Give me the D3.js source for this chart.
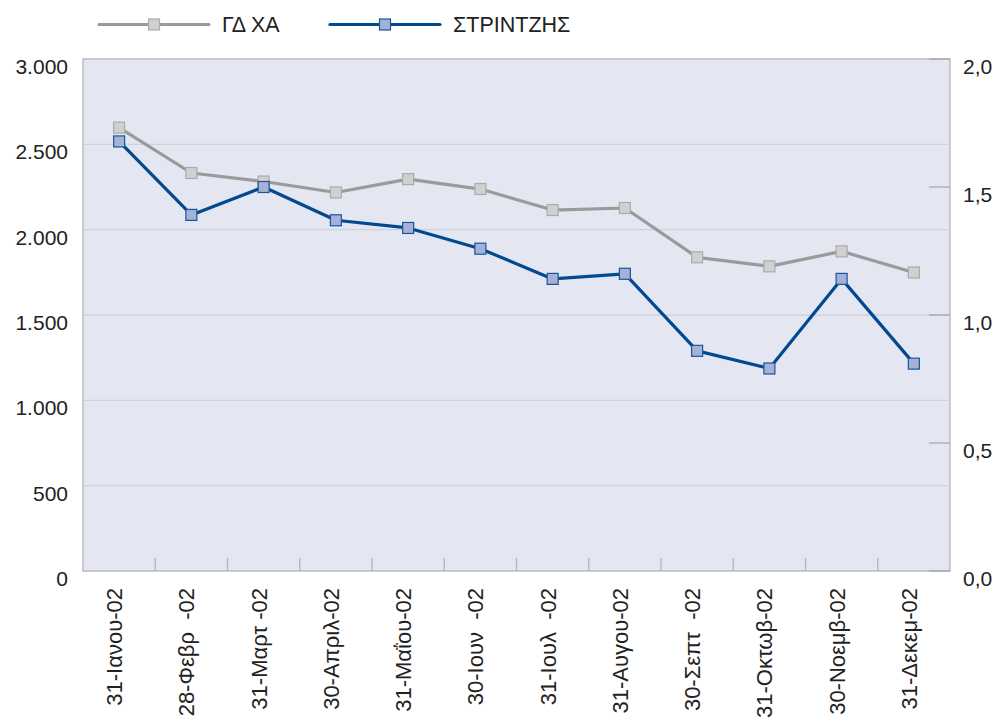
<!DOCTYPE html>
<html><head><meta charset="utf-8">
<script src="https://cdn.jsdelivr.net/npm/d3@7"></script>
<style>body{margin:0;background:#fff}svg{display:block}text{white-space:pre}</style>
</head><body>
<svg id="c" width="1000" height="723"></svg>
<script>
const categories = ["31-Ιανου-02","28-Φεβρ  -02","31-Μαρτ -02","30-Απριλ-02","31-Μαΐου-02","30-Ιουν  -02","31-Ιουλ  -02","31-Αυγου-02","30-Σεπτ  -02","31-Οκτωβ-02","30-Νοεμβ-02","31-Δεκεμ-02"];
const gdxa = [2598,2332,2282,2218,2296,2238,2115,2127,1838,1785,1873,1749];
const strintzis = [1.678,1.391,1.500,1.370,1.340,1.259,1.141,1.161,0.860,0.791,1.141,0.810];
const leftTicks = [0,500,1000,1500,2000,2500,3000];
const rightTicks = [0,0.5,1.0,1.5,2.0];
const seriesNames = ["ΓΔ ΧΑ","ΣΤΡΙΝΤΖΗΣ"];

const svg = d3.select("#c");
const L=83, R=950, T=59, B=571;
const x = d3.scaleBand().domain(categories).range([L,R]);
const yL = d3.scaleLinear().domain([0,3000]).range([B,T]);
const yR = d3.scaleLinear().domain([0,2]).range([B,T]);
const fmtL = v => v===0 ? "0" : d3.format(",")(v).replace(/,/g,".");
const fmtR = v => d3.format(".1f")(v).replace(".",",");
const font = "'Liberation Sans', Arial, sans-serif";

svg.append("rect").attr("x",L).attr("y",T).attr("width",R-L).attr("height",B-T).attr("fill","#e4e7f2");
svg.append("g").selectAll("line").data(leftTicks.filter(d=>d>0&&d<3000)).join("line")
  .attr("x1",L).attr("x2",R-2).attr("y1",d=>yL(d)).attr("y2",d=>yL(d))
  .attr("stroke","#d0d1d9").attr("stroke-width",1.3);
svg.append("rect").attr("x",L).attr("y",T).attr("width",R-L).attr("height",B-T).attr("fill","none").attr("stroke","#b3b3b8").attr("stroke-width",1.3);
svg.append("g").selectAll("line").data(categories.slice(1)).join("line")
  .attr("x1",d=>x(d)).attr("x2",d=>x(d)).attr("y1",B).attr("y2",B-13)
  .attr("stroke","#b3b3b8").attr("stroke-width",1.3);
svg.append("g").selectAll("line").data(rightTicks).join("line")
  .attr("x1",R-21).attr("x2",R).attr("y1",d=>yR(d)).attr("y2",d=>yR(d))
  .attr("stroke","#a8a8ad").attr("stroke-width",1.3);
svg.append("g").selectAll("text").data(leftTicks).join("text")
  .attr("x",68).attr("y",d=>yL(d)+15).attr("text-anchor","end")
  .attr("font-family",font).attr("font-size",21).attr("fill","#222").text(fmtL);
svg.append("g").selectAll("text").data(rightTicks).join("text")
  .attr("x",963).attr("y",d=>yR(d)+15).attr("text-anchor","start")
  .attr("font-family",font).attr("font-size",21).attr("fill","#222").text(fmtR);
svg.append("g").selectAll("text").data(categories).join("text")
  .attr("transform",d=>`translate(${x(d)+x.bandwidth()/2+3},588) rotate(-90)`)
  .attr("text-anchor","end").attr("font-family",font).attr("font-size",22).attr("fill","#222").text(d=>d);

const styles = [
  {line:"#999a9c", fill:"#d0d0d0", stroke:"#ababab", scale:yL, data:gdxa},
  {line:"#03498f", fill:"#a5b1d6", stroke:"#1a569c", scale:yR, data:strintzis}
];
styles.forEach(s=>{
  const pts = categories.map((c,i)=>[x(c)+x.bandwidth()/2, s.scale(s.data[i])]);
  svg.append("path").attr("d",d3.line()(pts)).attr("fill","none").attr("stroke",s.line).attr("stroke-width",3.2).attr("stroke-linejoin","round");
  svg.append("g").selectAll("rect").data(pts).join("rect")
    .attr("x",d=>d[0]-5.5).attr("y",d=>d[1]-5.5).attr("width",11).attr("height",11)
    .attr("fill",s.fill).attr("stroke",s.stroke).attr("stroke-width",1.2);
});
const legX = [99,330];
seriesNames.forEach((n,i)=>{
  const s = styles[i], x0 = legX[i], y0 = 24.5;
  const g = svg.append("g");
  g.append("line").attr("x1",x0).attr("x2",x0+110).attr("y1",y0).attr("y2",y0).attr("stroke",s.line).attr("stroke-width",3.2).attr("stroke-linecap","round");
  g.append("rect").attr("x",x0+55-5.5).attr("y",y0-5.5).attr("width",11).attr("height",11).attr("fill",s.fill).attr("stroke",s.stroke).attr("stroke-width",1.2);
  g.append("text").attr("x",x0+123).attr("y",y0+7.5).attr("font-family",font).attr("font-size",21.5).attr("fill","#222").text(n);
});
</script>
</body></html>
